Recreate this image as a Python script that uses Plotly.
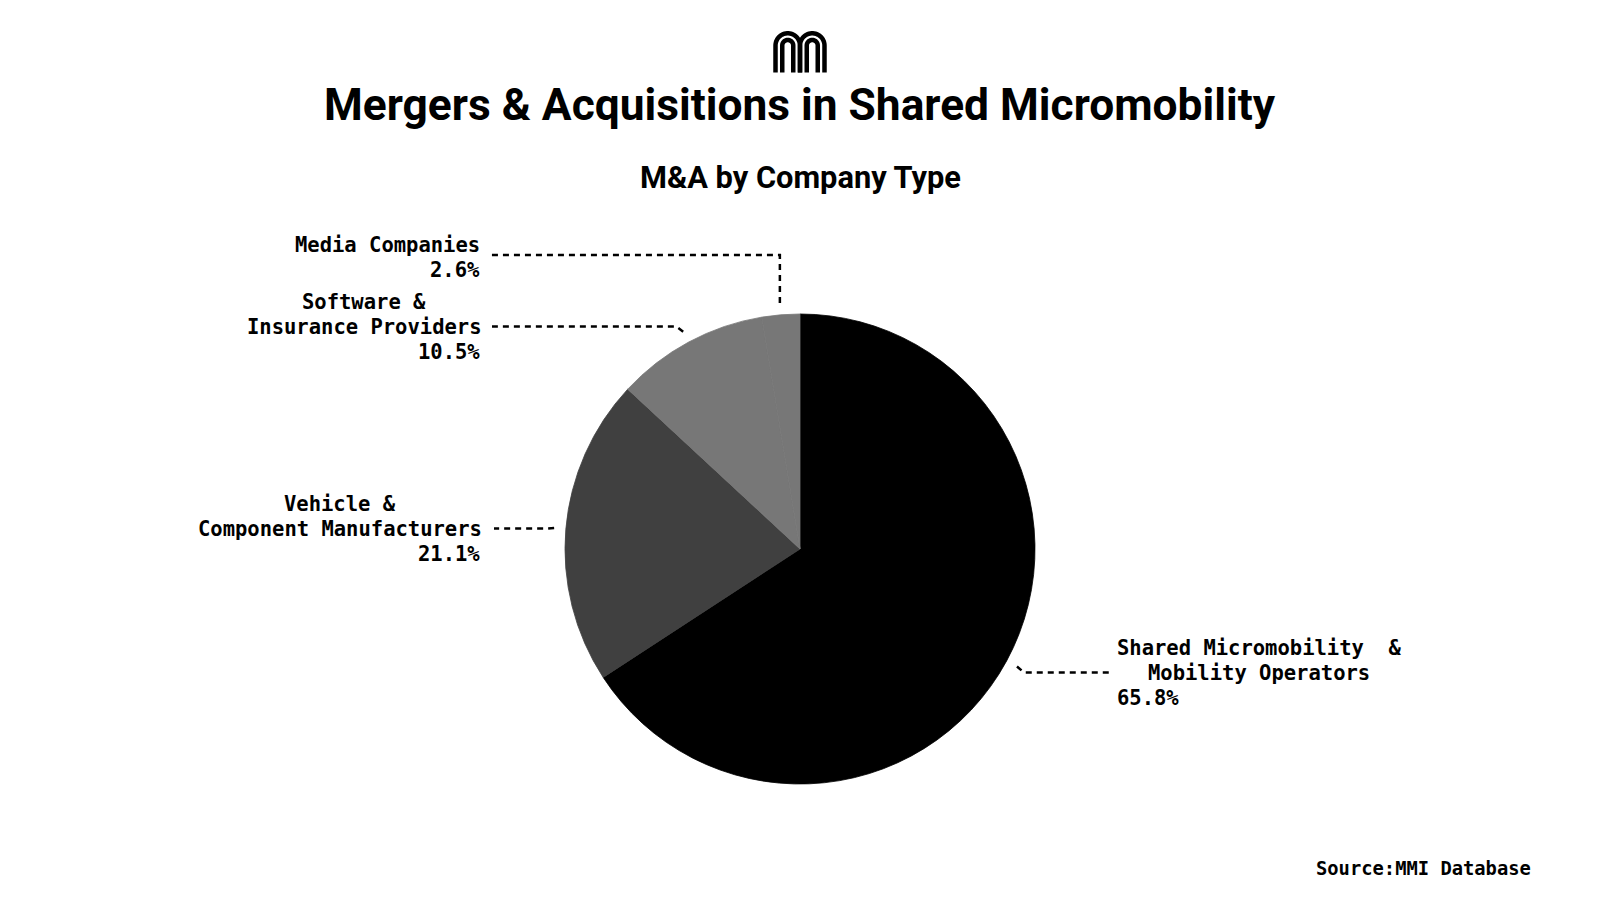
import numpy as np
import plotly.graph_objects as go

# ---- data ----
categories = [
    "Shared Micromobility & Mobility Operators",
    "Vehicle & Component Manufacturers",
    "Software & Insurance Providers",
    "Media Companies",
]
values = [65.8, 21.1, 10.5, 2.6]
pct_labels = ["65.8%", "21.1%", "10.5%", "2.6%"]
name_lines = [
    ["Shared Micromobility  &", "Mobility Operators"],
    ["Vehicle &", "Component Manufacturers"],
    ["Software &", "Insurance Providers"],
    ["Media Companies"],
]
colors = ["#000000", "#404040", "#777777", "#777777"]

W, H = 1600, 900
def px(x): return x / W
def py(y): return 1 - y / H

# pie geometry (pixels)
CX, CY, R = 800, 549, 235

MONO = "DejaVu Sans Mono, Liberation Mono, monospace"
SANS = "Roboto, Arial, sans-serif"

fig = go.Figure(go.Pie(
    labels=categories, values=values, sort=False, direction="clockwise",
    rotation=0, textinfo="none", hoverinfo="label+percent",
    marker=dict(colors=colors, line=dict(width=0.8, color=colors)),
    domain=dict(x=[px(CX - R), px(CX + R)], y=[py(CY + R), py(CY - R)]),
    showlegend=False,
))

# label layout (pixel positions of label blocks)
label_cfg = [
    dict(side="right", edge=1115, y0=648, center=1259, lead_y=672.5, line_end=1112, mode="diag"),
    dict(side="left", edge=481.6, y0=504, center=340, lead_y=528.6, line_end=494, mode="diag"),
    dict(side="left", edge=481.6, y0=302, center=364, lead_y=326.5, line_end=492, mode="diag"),
    dict(side="left", edge=481.6, y0=245, center=None, lead_y=255, line_end=490, mode="vert"),
]
LS = 25

annotations = []
shapes = []
total = sum(values)
cum = np.cumsum([0] + values[:-1])
for i, v in enumerate(values):
    cfg = label_cfg[i]
    theta = 2 * np.pi * (cum[i] + v / 2) / total
    k = 1.05
    ax = CX + R * k * np.sin(theta)
    ay = CY - R * k * np.cos(theta)
    lines = name_lines[i]
    for j, ln in enumerate(lines):
        yy = cfg["y0"] + j * LS
        if cfg["center"] is not None and len(lines) > 1:
            annotations.append(dict(x=px(cfg["center"]), y=py(yy), xref="paper", yref="paper",
                                    text=ln, showarrow=False, xanchor="center", yanchor="middle",
                                    font=dict(family=MONO, size=20.5, color="#000", weight="bold")))
        else:
            annotations.append(dict(x=px(cfg["edge"]), y=py(yy), xref="paper", yref="paper",
                                    text=ln, showarrow=False,
                                    xanchor="right" if cfg["side"] == "left" else "left",
                                    yanchor="middle",
                                    font=dict(family=MONO, size=20.5, color="#000", weight="bold")))
    yy = cfg["y0"] + len(lines) * LS
    annotations.append(dict(x=px(cfg["edge"]), y=py(yy), xref="paper", yref="paper",
                            text=pct_labels[i], showarrow=False,
                            xanchor="right" if cfg["side"] == "left" else "left",
                            yanchor="middle",
                            font=dict(family=MONO, size=20.5, color="#000", weight="bold")))
    ly = cfg["lead_y"]
    if cfg["mode"] == "vert":
        ex, ey = ax, ly
    else:
        ex = ax + (7 if cfg["side"] == "right" else -7)
        ey = ly
    path = (f"M {px(ax)},{py(ay)} L {px(ex)},{py(ey)} L {px(cfg['line_end'])},{py(ly)}")
    shapes.append(dict(type="path", xref="paper", yref="paper", path=path,
                       line=dict(color="#000", width=2.5, dash="6px,5px")))

# logo (two concentric double arches)
def arch(cx, r, top_c, bottom):
    t = np.linspace(np.pi, 0, 30)
    xs = np.concatenate([[cx - r], cx + r * np.cos(t), [cx + r]])
    ys = np.concatenate([[bottom], top_c - r * np.sin(t), [bottom]])
    return "M " + " L ".join(f"{px(x):.5f},{py(y):.5f}" for x, y in zip(xs, ys))

arc_cy = 45.5
for cx in (787.75, 812.25):
    for r in (12.25, 5.5):
        shapes.append(dict(type="path", xref="paper", yref="paper",
                           path=arch(cx, r, arc_cy, 72.5),
                           line=dict(color="#000", width=4.5)))

annotations += [
    dict(x=0.5, y=py(105), xref="paper", yref="paper", showarrow=False,
         text="Mergers & Acquisitions in Shared Micromobility", xanchor="center", yanchor="middle",
         font=dict(family=SANS, size=44.3, color="#000", weight="bold")),
    dict(x=0.5, y=py(177), xref="paper", yref="paper", showarrow=False,
         text="M&A by Company Type", xanchor="center", yanchor="middle",
         font=dict(family=SANS, size=30.8, color="#000", weight="bold")),
    dict(x=px(1533), y=py(868), xref="paper", yref="paper", showarrow=False,
         text="Source:MMI Database", xanchor="right", yanchor="middle",
         font=dict(family=MONO, size=18.8, color="#000", weight="bold")),
]

fig.update_layout(
    width=W, height=H, margin=dict(l=0, r=0, t=0, b=0),
    paper_bgcolor="#ffffff", plot_bgcolor="#ffffff",
    annotations=annotations, shapes=shapes,
)

fig.write_html("out.html", config={"displayModeBar": False},
               post_script="document.body.style.margin='0';")
